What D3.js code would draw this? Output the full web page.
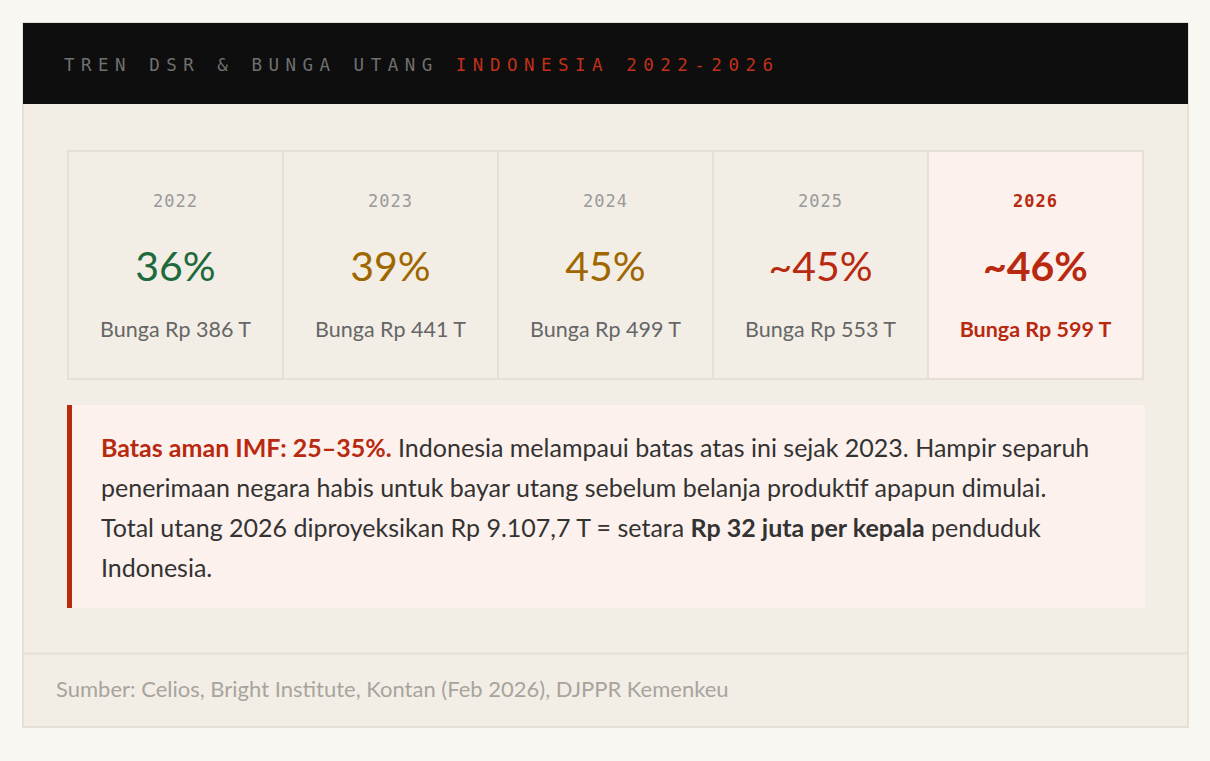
<!DOCTYPE html>
<meta charset="utf-8" />
<style>
  body {
    margin: 0;
    background: #f8f7f2;
  }
  .sans {
    font-family: Lato, "Noto Sans", sans-serif;
  }
  .mono {
    font-family: "DejaVu Sans Mono", "Liberation Mono", monospace;
  }
</style>
<body>
  <div id="chart"></div>
  <script src="https://cdn.jsdelivr.net/npm/d3@7"></script>
  <script>
    const titleParts = ["TREN DSR & BUNGA UTANG ", "INDONESIA 2022-2026"];
    const years = ["2022", "2023", "2024", "2025", "2026"];
    const dsr = ["36%", "39%", "45%", "~45%", "~46%"];
    const levels = ["safe", "warn", "warn", "high", "high"];
    const bunga = [386, 441, 499, 553, 599];
    const noteLines = [
      [["Batas aman IMF: 25–35%.", "lead"], [" Indonesia melampaui batas atas ini sejak 2023. Hampir separuh", "n"]],
      [["penerimaan negara habis untuk bayar utang sebelum belanja produktif apapun dimulai.", "n"]],
      [["Total utang 2026 diproyeksikan Rp 9.107,7 T = setara ", "n"], ["Rp 32 juta per kepala", "b"], [" penduduk", "n"]],
      [["Indonesia.", "n"]],
    ];
    const source = "Sumber: Celios, Bright Institute, Kontan (Feb 2026), DJPPR Kemenkeu";

    const width = 1210;
    const height = 761;
    const red = "#b8290f";
    const levelColor = { safe: "#1f6a3d", warn: "#a06700", high: red };

    const svg = d3
      .select("#chart")
      .append("svg")
      .attr("width", width)
      .attr("height", height);

    // outer card
    svg
      .append("rect")
      .attr("x", 23)
      .attr("y", 23)
      .attr("width", 1165)
      .attr("height", 704)
      .attr("fill", "#f2eee6")
      .attr("stroke", "#e6dfd3")
      .attr("stroke-width", 2);

    // header band
    svg
      .append("rect")
      .attr("x", 23)
      .attr("y", 23)
      .attr("width", 1165)
      .attr("height", 81)
      .attr("fill", "#0e0e0e");

    const title = svg
      .append("text")
      .attr("class", "mono")
      .attr("x", 64)
      .attr("y", 71)
      .attr("font-size", 17.5)
      .attr("letter-spacing", 6.5);
    title.append("tspan").attr("fill", "#707070").text(titleParts[0]);
    title.append("tspan").attr("fill", "#c1301a").text(titleParts[1]);

    // year cards
    const x = d3.scaleBand().domain(years).range([68, 1143]);
    const cardTop = 151;
    const cardH = 228;

    const cards = svg
      .append("g")
      .selectAll("g")
      .data(years)
      .join("g")
      .attr("transform", (d) => `translate(${x(d)},${cardTop})`);

    cards
      .append("rect")
      .attr("width", x.bandwidth())
      .attr("height", cardH)
      .attr("fill", (d, i) => (i === years.length - 1 ? "#fcf1ec" : "#f2eee6"))
      .attr("stroke", "#e6dfd3")
      .attr("stroke-width", 2);

    const cx = x.bandwidth() / 2;
    const isLast = (i) => i === years.length - 1;

    cards
      .append("text")
      .attr("class", "mono")
      .attr("x", cx)
      .attr("y", 56)
      .attr("text-anchor", "middle")
      .attr("font-size", 17)
      .attr("letter-spacing", 1)
      .attr("font-weight", (d, i) => (isLast(i) ? 700 : 400))
      .attr("fill", (d, i) => (isLast(i) ? red : "#999"))
      .text((d) => d);

    cards
      .append("text")
      .attr("class", "sans")
      .attr("x", cx)
      .attr("y", 130)
      .attr("text-anchor", "middle")
      .attr("font-size", 41)
      .attr("font-weight", (d, i) => (isLast(i) ? 700 : 400))
      .attr("fill", (d, i) => levelColor[levels[i]])
      .text((d, i) => dsr[i]);

    cards
      .append("text")
      .attr("class", "sans")
      .attr("x", cx)
      .attr("y", 186)
      .attr("text-anchor", "middle")
      .attr("font-size", 21.5)
      .attr("font-weight", (d, i) => (isLast(i) ? 700 : 400))
      .attr("fill", (d, i) => (isLast(i) ? red : "#666"))
      .text((d, i) => `Bunga Rp ${bunga[i]} T`);

    // callout
    svg
      .append("rect")
      .attr("x", 67)
      .attr("y", 405)
      .attr("width", 1078)
      .attr("height", 203)
      .attr("fill", "#fcf1ec");
    svg
      .append("rect")
      .attr("x", 67)
      .attr("y", 405)
      .attr("width", 5)
      .attr("height", 203)
      .attr("fill", red);

    const note = svg
      .append("g")
      .attr("class", "sans")
      .attr("font-size", 25)
      .attr("fill", "#333");

    noteLines.forEach((line, i) => {
      const t = note
        .append("text")
        .attr("x", 101)
        .attr("y", 457 + i * 40);
      t.selectAll("tspan")
        .data(line)
        .join("tspan")
        .attr("font-weight", (d) => (d[1] === "n" ? 400 : 700))
        .attr("fill", (d) => (d[1] === "lead" ? red : "#333"))
        .text((d) => d[0]);
    });

    // footer
    svg
      .append("line")
      .attr("x1", 23)
      .attr("x2", 1188)
      .attr("y1", 653.5)
      .attr("y2", 653.5)
      .attr("stroke", "#e6dfd3")
      .attr("stroke-width", 2);

    svg
      .append("text")
      .attr("class", "sans")
      .attr("x", 56)
      .attr("y", 697)
      .attr("font-size", 22)
      .attr("fill", "#a8a49d")
      .text(source);
  </script>
</body>
